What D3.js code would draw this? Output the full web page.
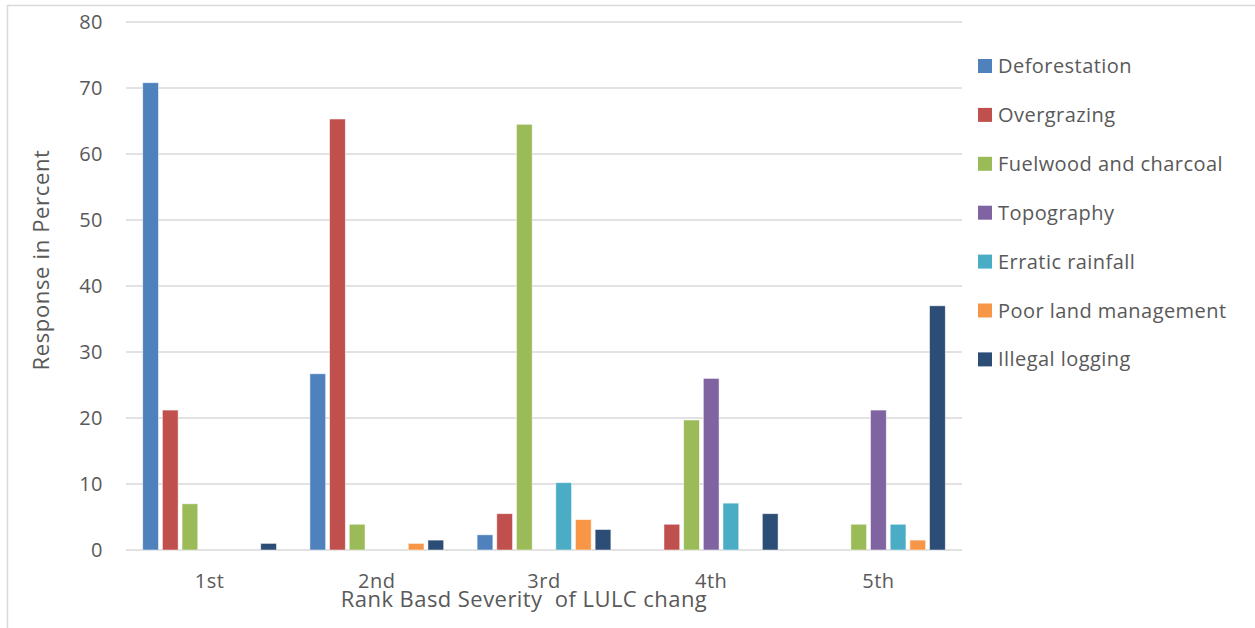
<!DOCTYPE html>
<html>
<head>
<meta charset="utf-8">
<script src="https://cdn.jsdelivr.net/npm/d3@7"></script>
<style>
  html, body { margin: 0; padding: 0; background: #fff; }
  svg text { font-family: "Open Sans", "Noto Sans", sans-serif; fill: #595959; }
</style>
</head>
<body>
<svg id="chart" width="1255" height="628"></svg>
<script>
// Ranks of land-use / land-cover change severity
const categories = ["1st", "2nd", "3rd", "4th", "5th"];

// Driver names (legend order)
const seriesNames = [
  "Deforestation",
  "Overgrazing",
  "Fuelwood and charcoal",
  "Topography",
  "Erratic rainfall",
  "Poor land management",
  "Illegal logging"
];

// Percent of respondents per rank, one array per driver
const deforestation   = [70.8, 26.7, 2.3, 0.0, 0.0];
const overgrazing     = [21.2, 65.3, 5.5, 3.9, 0.0];
const fuelwood        = [7.0, 3.9, 64.5, 19.7, 3.9];
const topography      = [0.0, 0.0, 0.0, 26.0, 21.2];
const erraticRainfall = [0.0, 0.0, 10.2, 7.1, 3.9];
const poorLandMgmt    = [0.0, 1.0, 4.6, 0.0, 1.5];
const illegalLogging  = [1.0, 1.5, 3.1, 5.5, 37.0];

const seriesValues = [deforestation, overgrazing, fuelwood, topography,
                      erraticRainfall, poorLandMgmt, illegalLogging];

const yTicks = [0, 10, 20, 30, 40, 50, 60, 70, 80];

const colors = ["#4f81bd", "#c0504d", "#9bbb59", "#8064a2",
                "#4bacc6", "#f79646", "#2c4d75"];

const svg = d3.select("#chart");

// Outer chart frame
svg.append("rect")
  .attr("x", 7.5).attr("y", 5.5)
  .attr("width", 1262).attr("height", 640)
  .attr("fill", "none").attr("stroke", "#d9d9d9").attr("stroke-width", 1.5);

const plot = { left: 126, right: 962, top: 22, bottom: 550 };

const x0 = d3.scaleBand()
  .domain(categories)
  .range([plot.left, plot.right])
  .paddingInner(0.2)
  .paddingOuter(0.1);

const x1 = d3.scaleBand()
  .domain(seriesNames)
  .range([0, x0.bandwidth()])
  .paddingInner(0.2);

const y = d3.scaleLinear()
  .domain([0, 80])
  .range([plot.bottom, plot.top]);

// Horizontal gridlines
svg.append("g")
  .selectAll("line")
  .data(yTicks)
  .join("line")
  .attr("x1", plot.left).attr("x2", plot.right)
  .attr("y1", d => y(d)).attr("y2", d => y(d))
  .attr("stroke", "#d9d9d9").attr("stroke-width", 1.5);

// Value axis labels
const yAxis = d3.axisLeft(y).tickValues(yTicks).tickSize(0).tickPadding(0);
const yg = svg.append("g")
  .attr("transform", `translate(${plot.left - 23},0)`)
  .call(yAxis);
yg.select(".domain").remove();
yg.selectAll("text")
  .attr("font-size", 20)
  .attr("letter-spacing", 0.5)
  .style("font-family", "'Open Sans', sans-serif")
  .attr("fill", "#595959");

// Bars
const groups = svg.append("g")
  .selectAll("g")
  .data(categories)
  .join("g")
  .attr("transform", d => `translate(${x0(d)},0)`);

groups.selectAll("rect")
  .data((cat, ci) => seriesNames.map((name, si) => ({ name, si, value: seriesValues[si][ci] })))
  .join("rect")
  .filter(d => d.value > 0)
  .attr("x", d => x1(d.name))
  .attr("width", x1.bandwidth())
  .attr("y", d => y(d.value))
  .attr("height", d => y(0) - y(d.value))
  .attr("fill", d => colors[d.si])
  .attr("stroke", "#ffffff")
  .attr("stroke-opacity", 0.6)
  .attr("stroke-width", 0.8);

// Category axis labels
const xAxis = d3.axisBottom(x0).tickSize(0).tickPadding(0);
const xg = svg.append("g")
  .attr("transform", `translate(0,${plot.bottom + 38})`)
  .call(xAxis);
xg.select(".domain").remove();
xg.selectAll("text")
  .attr("font-size", 20)
  .attr("letter-spacing", 0.5)
  .style("font-family", "'Open Sans', sans-serif")
  .attr("fill", "#595959")
  .attr("dy", "0");

// Axis titles
svg.append("text")
  .attr("transform", "translate(49,260) rotate(-90)")
  .attr("text-anchor", "middle")
  .attr("font-size", 22)
  .attr("letter-spacing", 0.65)
  .text("Response in Percent");

svg.append("text")
  .attr("x", 524).attr("y", 607)
  .attr("text-anchor", "middle")
  .attr("font-size", 22)
  .attr("letter-spacing", 0.44)
  .style("white-space", "pre")
  .text("Rank Basd Severity  of LULC chang");

// Legend
const legend = svg.append("g")
  .selectAll("g")
  .data(seriesNames)
  .join("g")
  .attr("transform", (d, i) => `translate(978,${66 + i * 48.9})`);

legend.append("rect")
  .attr("x", 0).attr("y", -7)
  .attr("width", 14).attr("height", 14)
  .attr("fill", (d, i) => colors[i]);

legend.append("text")
  .attr("x", 20).attr("y", 0)
  .attr("dy", "0.35em")
  .attr("font-size", 20)
  .attr("letter-spacing", 0.45)
  .text(d => d);
</script>
</body>
</html>
